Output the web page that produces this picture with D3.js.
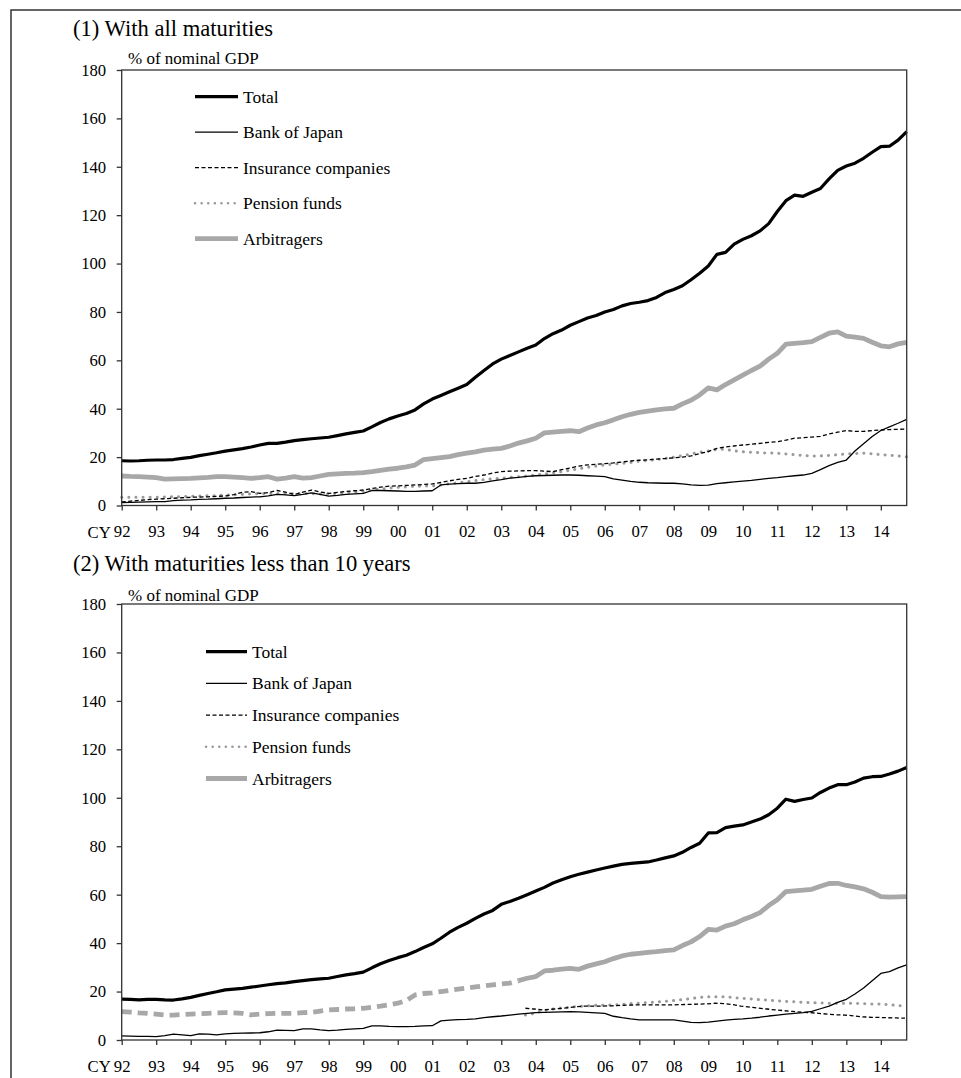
<!DOCTYPE html>
<html>
<head>
<meta charset="utf-8">
<script src="https://cdn.jsdelivr.net/npm/d3@7"></script>
<style>
  body { margin: 0; background: #fff; }
  svg { display: block; font-family: "Liberation Serif", "Times New Roman", serif; }
</style>
</head>
<body>
<div id="graph"></div>
<script>
// quarterly observations, 1992 Q1 .. 2014 Q4 (position of each point on the time axis)
const quarters = d3.range(0, 92).map(i => 1992 + i * 0.25);
const yearTicks = d3.range(1992, 2015);
const yTicks = [0, 20, 40, 60, 80, 100, 120, 140, 160, 180];
const seriesNames = ["Total", "Bank of Japan", "Insurance companies", "Pension funds", "Arbitragers"];

// (1) all maturities, % of nominal GDP
const p1Total = [
  18.5, 18.4, 18.5, 18.7, 18.8, 18.8, 19.0, 19.5, 19.9, 20.6, 21.2, 21.8,
  22.5, 23.0, 23.5, 24.2, 25.0, 25.7, 25.7, 26.2, 26.8, 27.2, 27.6, 27.9,
  28.2, 28.9, 29.6, 30.2, 30.8, 32.5, 34.3, 35.8, 37.0, 38.0, 39.5, 42.0,
  44.0, 45.5, 47.0, 48.5, 50.0, 53.0, 55.8, 58.5, 60.5, 62.0, 63.5, 65.0,
  66.3, 69.0, 71.0, 72.5, 74.5, 76.0, 77.5, 78.5, 80.0, 81.0, 82.5, 83.5,
  84.0, 84.7, 86.0, 88.0, 89.3, 90.8, 93.3, 96.0, 99.0, 103.8, 104.6, 108.0,
  110.0, 111.5, 113.5, 116.5, 121.5, 126.0, 128.3, 127.8, 129.5, 131.0, 135.0, 138.5,
  140.3, 141.5, 143.5, 146.0, 148.3, 148.5, 151.0, 154.5
];
const p1Boj = [
  1.2, 1.3, 1.4, 1.5, 1.6, 1.6, 2.0, 2.2, 2.3, 2.5, 2.6, 2.8,
  3.0, 3.1, 3.3, 3.5, 3.6, 4.0, 4.6, 4.4, 4.1, 4.6, 5.2, 4.6,
  3.9, 4.2, 4.6, 4.8, 5.0, 6.2, 6.2, 6.1, 6.0, 5.8, 5.8, 6.0,
  6.1, 8.5, 8.8, 9.0, 9.2, 9.2, 9.6, 10.2, 10.7, 11.3, 11.6, 12.0,
  12.3, 12.4, 12.5, 12.6, 12.6, 12.5, 12.3, 12.1, 11.9, 11.0, 10.5, 10.0,
  9.6, 9.4, 9.3, 9.2, 9.2, 8.9, 8.5, 8.3, 8.4, 9.0, 9.4, 9.8,
  10.1, 10.4, 10.8, 11.2, 11.5, 11.9, 12.3, 12.6, 13.3, 14.8, 16.5, 17.8,
  18.8, 22.5, 25.5, 28.5, 31.0, 32.5, 34.0, 35.6
];
const p1Insurance = [
  1.5, 1.8, 2.1, 2.4, 2.6, 2.8, 3.0, 3.2, 3.4, 3.5, 3.6, 3.8,
  3.9, 4.5, 5.5, 5.7, 5.0, 5.3, 6.2, 5.5, 4.6, 5.5, 6.4, 5.6,
  5.0, 5.4, 5.8, 6.1, 6.4, 7.0, 7.6, 8.0, 8.1, 8.3, 8.5, 8.7,
  8.9, 9.5, 10.2, 10.8, 11.2, 12.0, 12.6, 13.4, 14.0, 14.2, 14.3, 14.4,
  14.4, 14.2, 14.0, 14.8, 15.5, 16.3, 16.8, 17.0, 17.3, 17.6, 18.0, 18.4,
  18.7, 18.9, 19.2, 19.4, 19.7, 20.0, 20.5, 21.5, 22.3, 23.6, 24.2, 24.6,
  25.0, 25.3, 25.7, 26.1, 26.4, 27.0, 27.8, 28.0, 28.3, 28.6, 29.6, 30.3,
  31.0, 30.6, 30.6, 31.0, 31.2, 31.4, 31.5, 31.6
];
const p1Pension = [
  3.4, 3.4, 3.4, 3.4, 3.4, 3.5, 3.6, 3.7, 3.8, 3.9, 4.0, 4.1,
  4.3, 4.4, 4.6, 4.8, 4.9, 5.0, 5.0, 5.0, 5.0, 5.0, 4.9, 4.8,
  4.8, 5.0, 5.3, 5.5, 5.8, 6.3, 6.8, 7.2, 7.5, 7.7, 7.9, 8.0,
  8.1, 8.5, 9.0, 9.4, 9.8, 10.3, 10.7, 11.0, 11.3, 11.6, 11.9, 12.2,
  12.6, 13.0, 13.5, 14.0, 14.6, 15.2, 15.8, 16.3, 16.8, 17.1, 17.4, 17.8,
  18.3, 18.6, 19.0, 19.5, 20.0, 20.6, 21.3, 22.0, 22.5, 23.2, 23.2, 22.6,
  22.2, 22.0, 21.8, 21.7, 21.6, 21.3, 21.0, 20.7, 20.5, 20.5, 20.7, 21.0,
  21.3, 21.5, 21.6, 21.4, 21.0, 20.8, 20.5, 20.1
];
const p1Arbitragers = [
  12.2, 12.0, 11.9, 11.7, 11.5, 10.9, 11.0, 11.1, 11.2, 11.4, 11.6, 11.9,
  11.9, 11.7, 11.5, 11.2, 11.5, 11.9, 10.9, 11.3, 11.9, 11.3, 11.5, 12.2,
  12.9, 13.1, 13.3, 13.4, 13.6, 14.0, 14.5, 15.0, 15.4, 16.0, 16.7, 19.0,
  19.4, 19.8, 20.2, 21.0, 21.6, 22.2, 22.9, 23.3, 23.6, 24.6, 25.8, 26.7,
  27.8, 30.0, 30.3, 30.6, 30.9, 30.5, 32.0, 33.3, 34.2, 35.4, 36.7, 37.7,
  38.5, 39.0, 39.5, 39.9, 40.2, 42.0, 43.5, 45.7, 48.6, 47.8, 50.0, 51.9,
  53.9, 55.8, 57.6, 60.5, 62.9, 66.7, 67.0, 67.3, 67.7, 69.5, 71.2, 71.8,
  70.0, 69.6, 69.1, 67.5, 66.0, 65.6, 66.8, 67.4
];

// (2) maturities less than 10 years, % of nominal GDP
const p2Total = [
  16.9, 16.8, 16.6, 16.8, 16.8, 16.6, 16.5, 17.0, 17.6, 18.4, 19.2, 19.9,
  20.7, 21.0, 21.3, 21.8, 22.3, 22.8, 23.3, 23.6, 24.1, 24.5, 24.9, 25.2,
  25.5, 26.2, 26.9, 27.4, 28.0, 29.8, 31.5, 32.8, 34.0, 35.0, 36.5, 38.2,
  39.7, 42.0, 44.5, 46.5, 48.2, 50.2, 52.0, 53.5, 56.0, 57.2, 58.5, 60.0,
  61.5, 63.0, 64.8, 66.2, 67.4, 68.4, 69.3, 70.2, 71.0, 71.8, 72.5, 72.9,
  73.2, 73.5, 74.3, 75.2, 76.0, 77.5, 79.5, 81.2, 85.5, 85.6, 87.7, 88.3,
  88.8, 90.0, 91.2, 93.0, 95.7, 99.4, 98.5, 99.3, 99.9, 102.2, 104.0, 105.4,
  105.4, 106.5, 108.1, 108.7, 108.8, 109.8, 111.0, 112.5
];
const p2Boj = [
  1.7, 1.6, 1.5, 1.5, 1.4, 1.8, 2.4, 2.1, 1.8, 2.5, 2.4, 2.1,
  2.5, 2.7, 2.8, 2.9, 3.0, 3.4, 4.1, 4.0, 3.9, 4.6, 4.6, 4.2,
  3.9, 4.1, 4.4, 4.6, 4.8, 5.8, 5.8, 5.6, 5.5, 5.5, 5.6, 5.8,
  5.9, 7.9, 8.2, 8.4, 8.5, 8.7, 9.2, 9.6, 9.9, 10.3, 10.7, 11.0,
  11.3, 11.4, 11.5, 11.6, 11.7, 11.6, 11.4, 11.2, 11.0, 9.8, 9.2, 8.7,
  8.3, 8.3, 8.3, 8.3, 8.3, 7.8, 7.3, 7.2, 7.4, 7.8, 8.2, 8.5,
  8.7, 9.0, 9.4, 9.9, 10.3, 10.7, 11.0, 11.3, 11.8, 12.9, 14.0, 15.5,
  16.8, 19.0, 21.5, 24.5, 27.5, 28.2, 29.8, 31.0
];
// insurance and pension series in panel (2) start in 2003 Q4
const p2LateStart = 2003.7;
const p2Insurance = [
  13.1,
  12.8, 12.4, 12.7, 13.0, 13.4, 13.8, 14.0, 14.0, 14.0, 14.1, 14.3, 14.4,
  14.5, 14.5, 14.5, 14.5, 14.5, 14.6, 14.7, 14.8, 14.9, 15.2, 15.0, 14.6,
  14.0, 13.6, 13.2, 12.8, 12.4, 12.1, 11.8, 11.5, 11.3, 11.0, 10.7, 10.4,
  10.3, 10.0, 9.6, 9.4, 9.3, 9.2, 9.1, 9.0
];
const p2Pension = [
  10.3,
  11.0, 12.0, 12.7, 13.2, 13.5, 13.8, 14.0, 14.3, 14.4, 14.5, 14.6, 15.0,
  15.2, 15.4, 15.6, 15.9, 16.2, 16.6, 17.0, 17.5, 17.9, 17.9, 17.9, 17.6,
  17.2, 17.0, 16.7, 16.5, 16.2, 16.0, 15.8, 15.6, 15.4, 15.3, 15.2, 15.2,
  15.2, 15.1, 15.0, 14.9, 14.9, 14.6, 14.3, 14.0
];
// arbitragers in panel (2): dashed before this date, solid after
const p2ArbSplit = 2003.5;
const p2Arbitragers = [
  11.7, 11.5, 11.2, 11.0, 10.7, 10.3, 10.3, 10.5, 10.7, 10.8, 11.0, 11.2,
  11.3, 11.2, 11.0, 10.4, 10.7, 10.9, 11.0, 11.0, 11.0, 11.3, 11.4, 11.9,
  12.4, 12.6, 12.8, 12.9, 13.1, 13.5, 14.0, 14.6, 15.2, 16.3, 18.6, 19.2,
  19.5, 20.0, 20.5, 21.0, 21.4, 21.9, 22.3, 22.8, 23.1, 23.5, 24.5, 25.5,
  26.2, 28.5, 28.8, 29.3, 29.6, 29.2, 30.5, 31.4, 32.3, 33.6, 34.7, 35.4,
  35.8, 36.2, 36.5, 36.9, 37.2, 39.0, 40.5, 42.7, 45.7, 45.4, 47.0, 48.0,
  49.6, 51.0, 52.6, 55.5, 57.9, 61.3, 61.6, 61.9, 62.2, 63.5, 64.6, 64.7,
  63.8, 63.2, 62.4, 61.0, 59.2, 59.0, 59.1, 59.2
];

const W = 961, H = 1078;
const left = 121.7, right = 906.7;

const styles = {
  "Total": {stroke: "#000", width: 3.2},
  "Bank of Japan": {stroke: "#000", width: 1.3},
  "Insurance companies": {stroke: "#000", width: 1.3, dash: "4,2.5"},
  "Pension funds": {stroke: "#9a9a9a", width: 3, dash: "0.1,7", cap: "round"},
  "Arbitragers": {stroke: "#a8a8a8", width: 4.8}
};

const svg = d3.select("#graph")
    .append("svg")
    .attr("width", W)
    .attr("height", H);

// outer frame
svg.append("rect")
    .attr("x", 11).attr("y", 10)
    .attr("width", W + 20).attr("height", H + 20)
    .attr("fill", "none")
    .attr("stroke", "#333")
    .attr("stroke-width", 1.5);

const x = d3.scaleLinear().domain([1992, 2014.75]).range([left, right]);

function toPoints(values, start) {
  return values.map((v, i) => ({t: start + i * 0.25, v: v}));
}

function drawPanel(p) {
  const y = d3.scaleLinear().domain([0, 180]).range([p.bottom, p.top]);
  const g = svg.append("g");

  g.append("text")
      .attr("x", 73).attr("y", p.titleY)
      .attr("font-size", 22.6)
      .text(p.title);
  g.append("text")
      .attr("x", 128).attr("y", p.unitY)
      .attr("font-size", 17)
      .text("% of nominal GDP");

  // y axis
  const ya = g.append("g")
      .attr("transform", "translate(" + left + ",0)")
      .call(d3.axisLeft(y).tickValues(yTicks).tickSize(5).tickPadding(10.5));
  // x axis
  const xa = g.append("g")
      .attr("transform", "translate(0," + p.bottom + ")")
      .call(d3.axisBottom(x).tickValues(yearTicks).tickSize(5).tickPadding(15)
          .tickFormat(d => String(d).slice(2)));
  [ya, xa].forEach(a => {
    a.select(".domain").remove();
    a.selectAll("line").attr("stroke", "#333").attr("stroke-width", 1.3);
    a.selectAll("text")
        .attr("font-family", "Liberation Serif")
        .attr("font-size", 16.7)
        .attr("fill", "#000");
  });
  g.append("text")
      .attr("x", x(1992) - 11).attr("y", p.bottom + 32)
      .attr("text-anchor", "end")
      .attr("font-size", 16.7)
      .text("CY");

  const line = d3.line()
      .x(d => x(d.t))
      .y(d => y(d.v));

  p.lines.forEach(s => {
    const st = styles[s.name];
    g.append("path")
        .datum(s.points)
        .attr("fill", "none")
        .attr("stroke", st.stroke)
        .attr("stroke-width", st.width)
        .attr("stroke-dasharray", s.dash || st.dash || null)
        .attr("stroke-linecap", st.cap || "butt")
        .attr("stroke-linejoin", "round")
        .attr("d", line);
  });

  // plot frame
  g.append("rect")
      .attr("x", left).attr("y", p.top)
      .attr("width", right - left).attr("height", p.bottom - p.top)
      .attr("fill", "none")
      .attr("stroke", "#333")
      .attr("stroke-width", 1.3);

  // legend
  const lg = g.append("g");
  seriesNames.forEach((name, i) => {
    const st = styles[name];
    const ly = p.legend.y + i * p.legend.step;
    lg.append("line")
        .attr("x1", p.legend.x).attr("x2", p.legend.x + p.legend.len)
        .attr("y1", ly).attr("y2", ly)
        .attr("stroke", st.stroke)
        .attr("stroke-width", name === "Pension funds" ? 2.5 : st.width)
        .attr("stroke-dasharray", name === "Pension funds" ? "0.1,6.5" : (st.dash || null))
        .attr("stroke-linecap", st.cap || "butt");
    lg.append("text")
        .attr("x", p.legend.x + p.legend.len + 5)
        .attr("y", ly + 6)
        .attr("font-size", 17.5)
        .text(name);
  });
}

const p2Late = d => d.t >= p2LateStart;
const p2ArbAll = toPoints(p2Arbitragers, 1992);

drawPanel({
  title: "(1) With all maturities",
  titleY: 36, unitY: 64,
  top: 70, bottom: 505.5,
  legend: {x: 195, y: 96.7, step: 35.5, len: 43},
  lines: [
    {name: "Pension funds", points: toPoints(p1Pension, 1992)},
    {name: "Insurance companies", points: toPoints(p1Insurance, 1992)},
    {name: "Bank of Japan", points: toPoints(p1Boj, 1992)},
    {name: "Arbitragers", points: toPoints(p1Arbitragers, 1992)},
    {name: "Total", points: toPoints(p1Total, 1992)}
  ]
});

drawPanel({
  title: "(2) With maturities less than 10 years",
  titleY: 571, unitY: 601,
  top: 604, bottom: 1040,
  legend: {x: 206, y: 651.7, step: 31.7, len: 41},
  lines: [
    {name: "Pension funds", points: toPoints(p2Pension, p2LateStart).filter(p2Late)},
    {name: "Insurance companies", points: toPoints(p2Insurance, p2LateStart).filter(p2Late)},
    {name: "Bank of Japan", points: toPoints(p2Boj, 1992)},
    {name: "Arbitragers", points: p2ArbAll.filter(d => d.t <= p2ArbSplit), dash: "10,6"},
    {name: "Arbitragers", points: p2ArbAll.filter(d => d.t >= p2ArbSplit)},
    {name: "Total", points: toPoints(p2Total, 1992)}
  ]
});
</script>
</body>
</html>
